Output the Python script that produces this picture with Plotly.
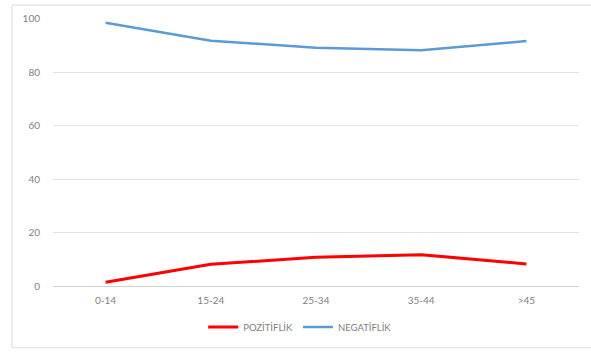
import plotly.graph_objects as go

# Age groups and share of results (%)
age_groups = ["0-14", "15-24", "25-34", "35-44", ">45"]
pozitiflik = [1.5, 8.2, 10.8, 11.8, 8.3]
negatiflik = [98.5, 91.8, 89.2, 88.2, 91.7]
y_ticks = [0, 20, 40, 60, 80, 100]

W, H = 591, 352
ML, MR, MT, MB = 53, 12, 18, 64
pw, ph = W - ML - MR, H - MT - MB

def px_x(p):
    return (p - ML) / pw

def px_y(p):
    return (H - MB - p) / ph

fig = go.Figure()
fig.add_trace(go.Scatter(
    x=age_groups, y=pozitiflik, mode="lines", name="POZİTİFLİK",
    line=dict(color="#ff0000", width=3),
))
fig.add_trace(go.Scatter(
    x=age_groups, y=negatiflik, mode="lines", name="NEGATİFLİK",
    line=dict(color="#5b9bd5", width=2.5),
))

font_family = "Lato, 'Open Sans', sans-serif"
fig.update_layout(
    width=W, height=H,
    margin=dict(l=ML, r=MR, t=MT, b=MB),
    paper_bgcolor="white", plot_bgcolor="white",
    font=dict(family=font_family, size=10, color="#7f7f7f"),
    showlegend=True,
    legend=dict(
        orientation="h", x=0.47, xanchor="center",
        y=px_y(327), yanchor="middle",
        font=dict(size=9.5, color="#7f7f7f"),
        itemwidth=30, tracegroupgap=0,
    ),
    xaxis=dict(
        type="category", range=[-0.5, len(age_groups) - 0.5],
        showgrid=False, showline=False, zeroline=False,
        ticks="", tickfont=dict(size=10, color="#7f7f7f"),
        ticklabelstandoff=6,
    ),
    yaxis=dict(
        range=[-0.3, 100.3], tickvals=y_ticks,
        showgrid=True, gridcolor="#e3e3e3", gridwidth=1,
        zeroline=True, zerolinecolor="#d0d0d0", zerolinewidth=1,
        showline=False, ticks="", ticklabelstandoff=12,
        tickfont=dict(size=10, color="#7f7f7f"),
    ),
    shapes=[dict(
        type="rect", xref="paper", yref="paper",
        x0=px_x(12), x1=px_x(600), y0=px_y(349), y1=px_y(5),
        line=dict(color="#d9d9d9", width=1), fillcolor="rgba(0,0,0,0)",
        layer="below",
    )],
)

fig.write_html("out.html")
